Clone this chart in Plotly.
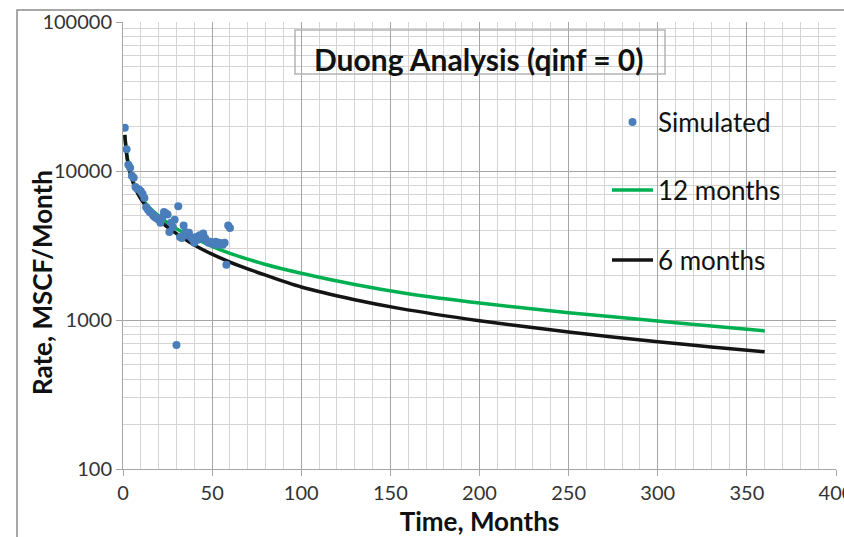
import plotly.graph_objects as go

# Monthly simulated gas rates (months 1..60)
sim_month = list(range(1, 61))
sim_rate = [
    19500, 14000, 11000, 10500, 9300, 9000, 7800, 7600, 7500, 7300,
    7000, 6600, 5700, 5500, 5300, 5200, 5000, 4900, 4800, 4700,
    4500, 4900, 5300, 5200, 5100, 3900, 4500, 4200, 4700, 680,
    5800, 3600, 3550, 4300, 3900, 3700, 3850, 3600, 3500, 3300,
    3600, 3450, 3700, 3550, 3800, 3550, 3400, 3300, 3350, 3250,
    3300, 3350, 3200, 3300, 3250, 3200, 3300, 2350, 4300, 4150,
]

# Duong forecast fitted on 12 months of history
fit12_month = [1, 2, 3, 5, 7, 10, 15, 20, 30, 40, 50, 60, 80, 100, 130,
               160, 200, 250, 300, 330, 360]
fit12_rate = [17500, 13200, 11200, 9000, 7800, 6700, 5650, 5000, 4100, 3550,
              3120, 2800, 2360, 2060, 1730, 1500, 1300, 1120, 985, 912, 845]

# Duong forecast fitted on 6 months of history
fit6_month = [1, 2, 3, 5, 7, 10, 15, 20, 30, 43, 60, 80, 100, 130, 155,
              200, 250, 300, 330, 360]
fit6_rate = [17500, 13000, 11000, 8800, 7600, 6500, 5400, 4700, 3800, 3040,
             2450, 2000, 1665, 1368, 1197, 989, 830, 715, 660, 612]

x_ticks = [0, 50, 100, 150, 200, 250, 300, 350, 400]
y_ticks = [100, 1000, 10000, 100000]
# minor log gridlines: 2..9 within each decade
y_minor = [m * d for d in (100, 1000, 10000) for m in range(2, 10)]

FONT = "Lato"

fig = go.Figure()
fig.add_trace(go.Scatter(
    x=fit12_month, y=fit12_rate, mode="lines", name="12 months",
    line=dict(color="#00b050", width=3.5, shape="spline", smoothing=0.6),
    legend="legend2",
))
fig.add_trace(go.Scatter(
    x=fit6_month, y=fit6_rate, mode="lines", name="6 months",
    line=dict(color="#141414", width=3.5, shape="spline", smoothing=0.6),
    legend="legend3",
))
fig.add_trace(go.Scatter(
    x=sim_month, y=sim_rate, mode="markers", name="Simulated",
    marker=dict(color="#4a7ebb", size=8), legend="legend",
))

L, R, T, B = 123, 8, 22, 68
W, H = 844, 537
pw, ph = W - L - R, H - T - B


def px_x(p):
    return (p - L) / pw


def px_y(p):
    return (H - B - p) / ph


leg_common = dict(
    xref="paper", yref="paper", xanchor="left", yanchor="middle",
    bgcolor="rgba(0,0,0,0)", borderwidth=0,
    font=dict(family=FONT, size=26, color="#111111"),
    itemwidth=41,
)

fig.update_layout(
    width=W, height=H,
    margin=dict(l=L, r=R, t=T, b=B, autoexpand=False),
    paper_bgcolor="white", plot_bgcolor="white",
    font=dict(family=FONT, color="#222222"),
    showlegend=True,
    legend=dict(x=px_x(607), y=px_y(122), **leg_common),
    legend2=dict(x=px_x(607), y=px_y(190), **leg_common),
    legend3=dict(x=px_x(607), y=px_y(260), **leg_common),
    xaxis=dict(
        range=[0, 400], tickvals=x_ticks, ticktext=[str(v) for v in x_ticks],
        ticklabeloverflow="allow", automargin=False,
        showgrid=True, gridcolor="#a6a6a6", gridwidth=1,
        minor=dict(dtick=10, showgrid=True, gridcolor="#d4d4d4", gridwidth=1),
        ticks="outside", ticklen=6, tickcolor="#a6a6a6",
        showline=True, linecolor="#a6a6a6", zeroline=False,
        tickfont=dict(family=FONT, size=20, color="#333333"),
        title=dict(text="<b>Time, Months</b>", standoff=10,
                   font=dict(family=FONT, size=26, color="#111111")),
    ),
    yaxis=dict(
        type="log", range=[2, 5], tickvals=y_ticks,
        ticktext=[str(v) for v in y_ticks], automargin=False,
        showgrid=True, gridcolor="#a6a6a6", gridwidth=1,
        minor=dict(tickvals=y_minor, showgrid=True, gridcolor="#d4d4d4",
                   gridwidth=1, ticks=""),
        ticks="outside", ticklen=6, tickcolor="#a6a6a6",
        showline=True, linecolor="#a6a6a6", zeroline=False,
        tickfont=dict(family=FONT, size=20, color="#333333"),
    ),
)

# y-axis title, centred on the chart rather than the plot area
fig.add_annotation(
    xref="paper", yref="paper", x=px_x(42), y=px_y(283),
    text="<b>Rate, MSCF/Month</b>", showarrow=False, textangle=-90,
    xanchor="center", yanchor="middle",
    font=dict(family=FONT, size=26, color="#111111"),
)

# outer chart frame
fig.add_shape(type="rect", xref="paper", yref="paper",
              x0=px_x(17), x1=px_x(852), y0=px_y(548), y1=px_y(10),
              line=dict(color="#8c8c8c", width=1.5), fillcolor="rgba(0,0,0,0)",
              layer="above")
# title box
fig.add_shape(type="rect", xref="paper", yref="paper",
              x0=px_x(295), x1=px_x(665), y0=px_y(74), y1=px_y(30),
              line=dict(color="#b4b4b4", width=1.5), fillcolor="rgba(0,0,0,0)")
fig.add_annotation(
    xref="paper", yref="paper", x=px_x(479), y=px_y(59),
    text="<b>Duong Analysis (qinf = 0)</b>", showarrow=False,
    xanchor="center", yanchor="middle",
    font=dict(family=FONT, size=30, color="#111111"),
)

fig.write_html("out.html")
